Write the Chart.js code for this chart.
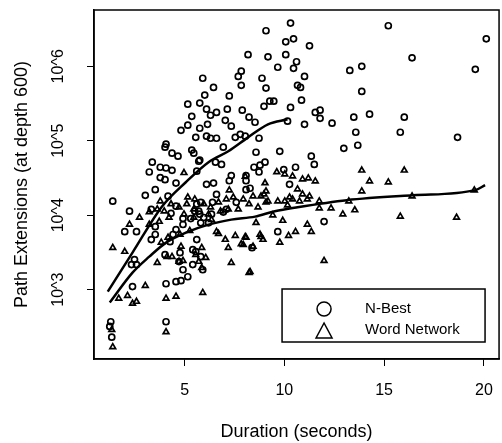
<!DOCTYPE html>
<html>
<head>
<meta charset="utf-8">
<script src="https://cdn.jsdelivr.net/npm/chart.js@4.4.0/dist/chart.umd.min.js"></script>
<style>
  html, body { margin: 0; padding: 0; background: #fff; overflow: hidden; }
  canvas { display: block; }
</style>
</head>
<body>
<canvas id="chart" width="508" height="443"></canvas>
<script>
// N-Best: duration (s) vs path extensions
const nBestX = [
  10.31, 9.08, 10.07, 10.46, 11.26, 15.21, 20.12, 16.40, 19.57, 9.18,
  10.07, 10.61, 9.67, 10.46, 11.01, 13.28, 13.88, 8.88, 9.08, 10.66,
  10.81, 13.88, 10.86, 8.98, 9.27, 9.47, 10.31, 11.55, 11.79, 11.79,
  11.01, 12.39, 13.48, 14.27, 16.01, 13.58, 15.81, 18.68, 12.98, 13.68,
  10.16, 8.73, 8.58, 9.77, 11.35, 11.50, 8.48, 8.78, 9.03, 8.73,
  9.97, 10.56, 10.26, 8.28, 8.18, 8.53, 11.99, 9.67, 5.91, 5.16,
  5.76, 5.36, 5.16, 4.82, 5.76, 5.56, 4.07, 4.02, 4.37, 4.67,
  5.36, 5.76, 3.38, 3.23, 4.07, 3.78, 4.02, 4.57, 5.61, 3.53,
  3.03, 1.40, 4.17, 6.45, 6.01, 7.24, 6.10, 6.30, 6.60, 7.14,
  7.89, 7.69, 7.84, 7.84, 6.15, 7.04, 7.34, 8.23, 7.54, 7.79,
  8.04, 6.10, 6.30, 6.60, 6.94, 5.46, 5.71, 6.85, 6.55, 7.34,
  7.24, 8.08, 8.08, 8.08, 6.10, 6.45, 6.60, 6.40, 5.81, 5.61,
  7.59, 7.09, 6.94, 5.71, 6.35, 5.96, 5.81, 6.20, 5.81, 5.91,
  8.38, 5.61, 5.56, 2.24, 3.33, 2.00, 2.59, 4.32, 4.57, 4.92,
  5.31, 4.92, 4.57, 4.42, 3.53, 3.33, 4.27, 5.41, 4.77, 4.02,
  3.53, 2.49, 2.34, 2.59, 4.72, 4.92, 5.41, 5.16, 4.82, 4.57,
  4.07, 2.39, 4.07, 1.30, 1.25, 1.35, 5.51, 5.76, 3.78, 4.37
];
const nBestY = [
  3800000, 3000000, 2130000, 2340000, 1880000, 3500000, 2340000, 1300000, 910000, 1340000,
  1430000, 1150000, 970000, 940000, 730000, 880000, 1000000, 690000, 510000, 555000,
  520000, 460000, 350000, 290000, 340000, 340000, 280000, 240000, 257000, 200000,
  166000, 172000, 207000, 227000, 207000, 130000, 130000, 111000, 79000, 87000,
  183000, 108000, 70000, 72000, 62000, 48000, 44000, 47000, 51500, 38000,
  41000, 44000, 26000, 23000, 1430000, 177000, 8200, 6000, 690000, 310000,
  320000, 213000, 162000, 138000, 147000, 111000, 90000, 82000, 68000, 62000,
  75000, 55000, 51500, 38000, 43000, 32000, 30000, 27000, 39000, 22000,
  18500, 15400, 18000, 520000, 410000, 400000, 265000, 220000, 240000, 265000,
  257000, 730000, 860000, 555000, 166000, 188000, 157000, 207000, 111000, 122000,
  115000, 115000, 108000, 108000, 82000, 68000, 53000, 48000, 51500, 34000,
  29000, 34000, 29000, 22000, 26000, 27000, 19000, 14900, 14900, 14100,
  14900, 12000, 11000, 11300, 10300, 9300, 7900, 7900, 2770, 1850,
  3660, 4700, 3240, 11300, 12000, 6000, 6000, 10600, 13200, 9000,
  9000, 7500, 6400, 5500, 5500, 4700, 4400, 3440, 3140, 2950,
  7000, 2530, 2170, 2170, 2380, 1850, 2170, 1490, 1320, 1280,
  1200, 1100, 370, 370, 320, 230, 11300, 10300, 44000, 40000
];

// Word Network
const wordNetX = [
  13.88, 16.01, 14.27, 15.21, 13.88, 19.52, 16.40, 13.23, 13.53, 12.93,
  12.34, 11.75, 11.75, 15.81, 18.63, 11.99, 11.15, 11.35, 10.56, 10.21,
  9.92, 9.77, 8.83, 8.93, 8.28, 8.43, 9.62, 10.02, 10.41, 10.91,
  11.20, 11.55, 9.03, 9.08, 8.83, 9.18, 10.26, 10.66, 10.91, 11.26,
  10.76, 10.41, 1.40, 2.00, 2.24, 3.03, 1.70, 2.14, 2.39, 2.59,
  4.07, 4.57, 5.91, 4.07, 1.40, 1.35, 3.63, 4.12, 4.37, 4.82,
  4.72, 4.92, 5.56, 5.71, 5.86, 6.06, 6.60, 7.04, 7.34, 7.19,
  7.54, 7.94, 8.04, 6.35, 7.19, 8.23, 3.83, 4.77, 5.26, 4.17,
  3.78, 5.16, 5.51, 7.24, 8.98, 9.08, 10.02, 9.42, 8.58, 7.84,
  8.08, 8.78, 8.23, 6.70, 5.86, 2.74, 3.23, 3.63, 3.98, 4.32,
  4.72, 5.11, 5.46, 5.96, 6.30, 6.70, 7.09, 7.44, 7.94, 8.43,
  3.23, 3.73, 4.22, 4.97, 5.46, 6.20, 6.80, 7.69, 8.68, 9.67,
  10.16, 11.15, 4.97, 8.04
];
const wordNetY = [
  40000, 40000, 28600, 27700, 21000, 21700, 18000, 15400, 11700, 10300,
  12400, 12400, 15400, 9600, 9300, 2450, 7500, 6000, 6000, 5300,
  8450, 4300, 5150, 4700, 1740, 3800, 38000, 35500, 33400, 30400,
  31400, 28600, 27000, 21000, 18000, 15400, 17400, 22300, 19100, 18000,
  15400, 16400, 3660, 3240, 7500, 1130, 760, 830, 650, 690,
  760, 810, 910, 270, 170, 290, 2300, 2770, 2770, 3800,
  2380, 2450, 2950, 2380, 1970, 2690, 6000, 4700, 2300, 3660,
  5300, 4000, 5150, 8700, 12000, 14100, 4300, 5500, 6200, 5000,
  15400, 17400, 16400, 21700, 19100, 14900, 15400, 10000, 7900, 4100,
  5000, 5500, 1690, 5650, 3660, 9300, 11000, 12000, 11300, 14100,
  12800, 14100, 12000, 14100, 12800, 14900, 16400, 17400, 16400, 18000,
  7500, 8200, 9300, 10300, 9300, 10300, 11300, 12000, 12800, 15400,
  13600, 16400, 37000, 33000
];

// smoothed trend curves
const nBestFitX = [1.15, 2.39, 3.88, 5.06, 6.20, 7.19, 8.18, 9.18, 10.16];
const nBestFitY = [940, 3140, 13200, 27700, 51500, 72300, 111000, 166000, 194000];
const wordNetFitX = [1.25, 2.39, 3.23, 4.07, 5.06, 6.20, 7.34, 8.53, 9.52, 10.66, 13.13, 16.45, 19.57, 20.06];
const wordNetFitY = [670, 1690, 2770, 4280, 5830, 7470, 8710, 9560, 11300, 12800, 15900, 18500, 21700, 25300];

const xTicks = [5, 10, 15, 20];
const yTicks = [1000, 10000, 100000, 1000000];
const yTickLabels = ['10^3', '10^4', '10^5', '10^6'];
const seriesNames = ['N-Best', 'Word Network'];

const FONT = '"Liberation Sans", Arial, sans-serif';
Chart.defaults.color = '#000';
Chart.defaults.font.family = FONT;

const toPoints = (xs, ys) => xs.map((x, i) => ({ x: x, y: ys[i] }));

const framePlugin = {
  id: 'frame',
  afterDraw(chart) {
    const ctx = chart.ctx;
    const ca = chart.chartArea;
    const ys = chart.scales.y;
    ctx.save();
    ctx.strokeStyle = '#000';
    ctx.lineWidth = 1.5;
    ctx.strokeRect(ca.left, ca.top, ca.right - ca.left, ca.bottom - ca.top);

    // rotated y tick labels
    ctx.fillStyle = '#000';
    ctx.font = '16px ' + FONT;
    ctx.textAlign = 'center';
    ctx.textBaseline = 'middle';
    yTicks.forEach((v, i) => {
      ctx.save();
      ctx.translate(59, ys.getPixelForValue(v));
      ctx.rotate(-Math.PI / 2);
      ctx.fillText(yTickLabels[i], 0, 0);
      ctx.restore();
    });

    // legend box
    const lx = ca.right - 217, ly = ca.bottom - 70, lw = 203, lh = 53;
    ctx.fillStyle = '#fff';
    ctx.fillRect(lx, ly, lw, lh);
    ctx.strokeRect(lx, ly, lw, lh);
    const sx = lx + 42;
    ctx.lineWidth = 1.5;
    ctx.beginPath();
    ctx.arc(sx, ly + 20, 7, 0, Math.PI * 2);
    ctx.stroke();
    const ty = ly + 42;
    ctx.beginPath();
    ctx.moveTo(sx - 8, ty + 7);
    ctx.lineTo(sx + 8, ty + 7);
    ctx.lineTo(sx, ty - 8);
    ctx.closePath();
    ctx.stroke();
    ctx.fillStyle = '#000';
    ctx.font = '15px ' + FONT;
    ctx.textAlign = 'left';
    ctx.fillText(seriesNames[0], lx + 83, ly + 20);
    ctx.fillText(seriesNames[1], lx + 83, ly + 41);
    ctx.restore();
  }
};

new Chart(document.getElementById('chart'), {
  type: 'scatter',
  data: {
    datasets: [
      {
        label: seriesNames[0] + ' fit',
        data: toPoints(nBestFitX, nBestFitY),
        showLine: true,
        borderColor: '#000',
        borderWidth: 2.5,
        pointRadius: 0,
        cubicInterpolationMode: 'monotone',
        fill: false
      },
      {
        label: seriesNames[1] + ' fit',
        data: toPoints(wordNetFitX, wordNetFitY),
        showLine: true,
        borderColor: '#000',
        borderWidth: 2.5,
        pointRadius: 0,
        cubicInterpolationMode: 'monotone',
        fill: false
      },
      {
        label: seriesNames[0],
        data: toPoints(nBestX, nBestY),
        pointStyle: 'circle',
        pointRadius: 3,
        borderColor: '#000',
        borderWidth: 1.7,
        backgroundColor: 'rgba(0,0,0,0)'
      },
      {
        label: seriesNames[1],
        data: toPoints(wordNetX, wordNetY),
        pointStyle: 'triangle',
        pointRadius: 3.3,
        borderColor: '#000',
        borderWidth: 1.7,
        backgroundColor: 'rgba(0,0,0,0)'
      }
    ]
  },
  options: {
    responsive: false,
    animation: false,
    devicePixelRatio: 1,
    layout: { padding: { top: 10, right: 4, left: 0, bottom: 0 } },
    plugins: {
      legend: { display: false },
      tooltip: { enabled: false }
    },
    scales: {
      x: {
        type: 'linear',
        min: 0.46,
        max: 20.76,
        afterBuildTicks: s => { s.ticks = xTicks.map(v => ({ value: v })); },
        afterFit: s => { s.height = 84; },
        grid: { drawOnChartArea: false, drawTicks: true, tickLength: 7, tickColor: '#000', tickWidth: 1 },
        border: { display: true, color: '#000', width: 1.5 },
        ticks: { font: { size: 16 }, color: '#000', padding: 15, maxRotation: 0, autoSkip: false },
        title: { display: true, text: 'Duration (seconds)', font: { size: 18 }, color: '#000', padding: { top: 0, bottom: 0 } }
      },
      y: {
        type: 'logarithmic',
        min: 117,
        max: 5700000,
        afterBuildTicks: s => { s.ticks = yTicks.map(v => ({ value: v })); },
        afterFit: s => { s.width = 94; },
        grid: { drawOnChartArea: false, drawTicks: true, tickLength: 7, tickColor: '#000', tickWidth: 1 },
        border: { display: true, color: '#000', width: 1.5 },
        ticks: { display: false },
        title: { display: true, text: 'Path Extensions (at depth 600)', font: { size: 18 }, color: '#000', padding: { top: 11, bottom: 0 } }
      }
    }
  },
  plugins: [framePlugin]
});
</script>
</body>
</html>
